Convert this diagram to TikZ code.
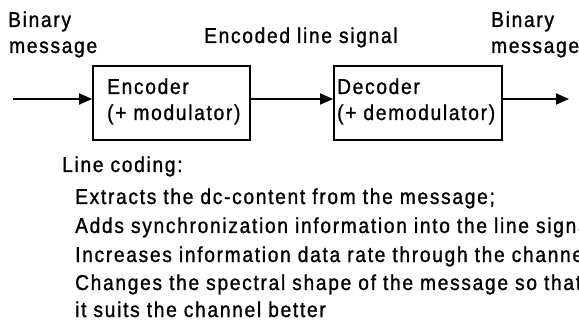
\documentclass[tikz,border=0pt]{standalone}
\usepackage{fontspec}
\setmainfont[FakeStretch=0.89,LetterSpace=8,FakeBold=1.2]{Liberation Sans}
\usetikzlibrary{arrows.meta}
\begin{document}
\begin{tikzpicture}[x=1pt,y=-1pt,
  txt/.style={inner sep=0pt,anchor=base west,font=\fontsize{21.5}{26}\selectfont},
  blk/.style={draw,line width=1.8pt,inner sep=0pt},
  conn/.style={line width=1.8pt,-{Triangle[length=13pt,width=11pt]}}]
\useasboundingbox (0,0) rectangle (579,326);
\clip (0,0) rectangle (579,326);
% labels top
\node[txt] (binLa) at (8,27) {Binary};
\node[txt] (binLb) at (9,53) {message};
\node[txt] (enc) at (204,43) {Encoded line signal};
\node[txt] (binRa) at (491,27) {Binary};
\node[txt] (binRb) at (491,53) {message};
% blocks
\node[blk,minimum width=157pt,minimum height=74pt] (encoder) at (171.5,103) {};
\node[blk,minimum width=168pt,minimum height=74pt] (decoder) at (418,103) {};
\node[txt] (encT1) at (107,94) {Encoder};
\node[txt] (encT2) at (107,120) {(+ modulator)};
\node[txt] (decT1) at (337,94) {Decoder};
\node[txt] (decT2) at (337,120) {(+ demodulator)};
% connectors
\coordinate (in) at (13,99);
\coordinate (out) at (569,99);
\draw[conn] (in) -- (in -| encoder.west);
\draw[conn] (encoder.east |- in) -- (decoder.west |- in);
\draw[conn] (decoder.east |- in) -- (out);
% description
\node[txt] (lc) at (62,172) {Line coding:};
\node[txt] (l1) at (75,204) {Extracts the dc-content from the message;};
\node[txt] (l2) at (75,233) {Adds synchronization information into the line signal;};
\node[txt] (l3) at (75,262) {Increases information data rate through the channel;};
\node[txt] (l4) at (75,290) {Changes the spectral shape of the message so that};
\node[txt] (l5) at (75,317) {it suits the channel better};
\end{tikzpicture}
\end{document}
